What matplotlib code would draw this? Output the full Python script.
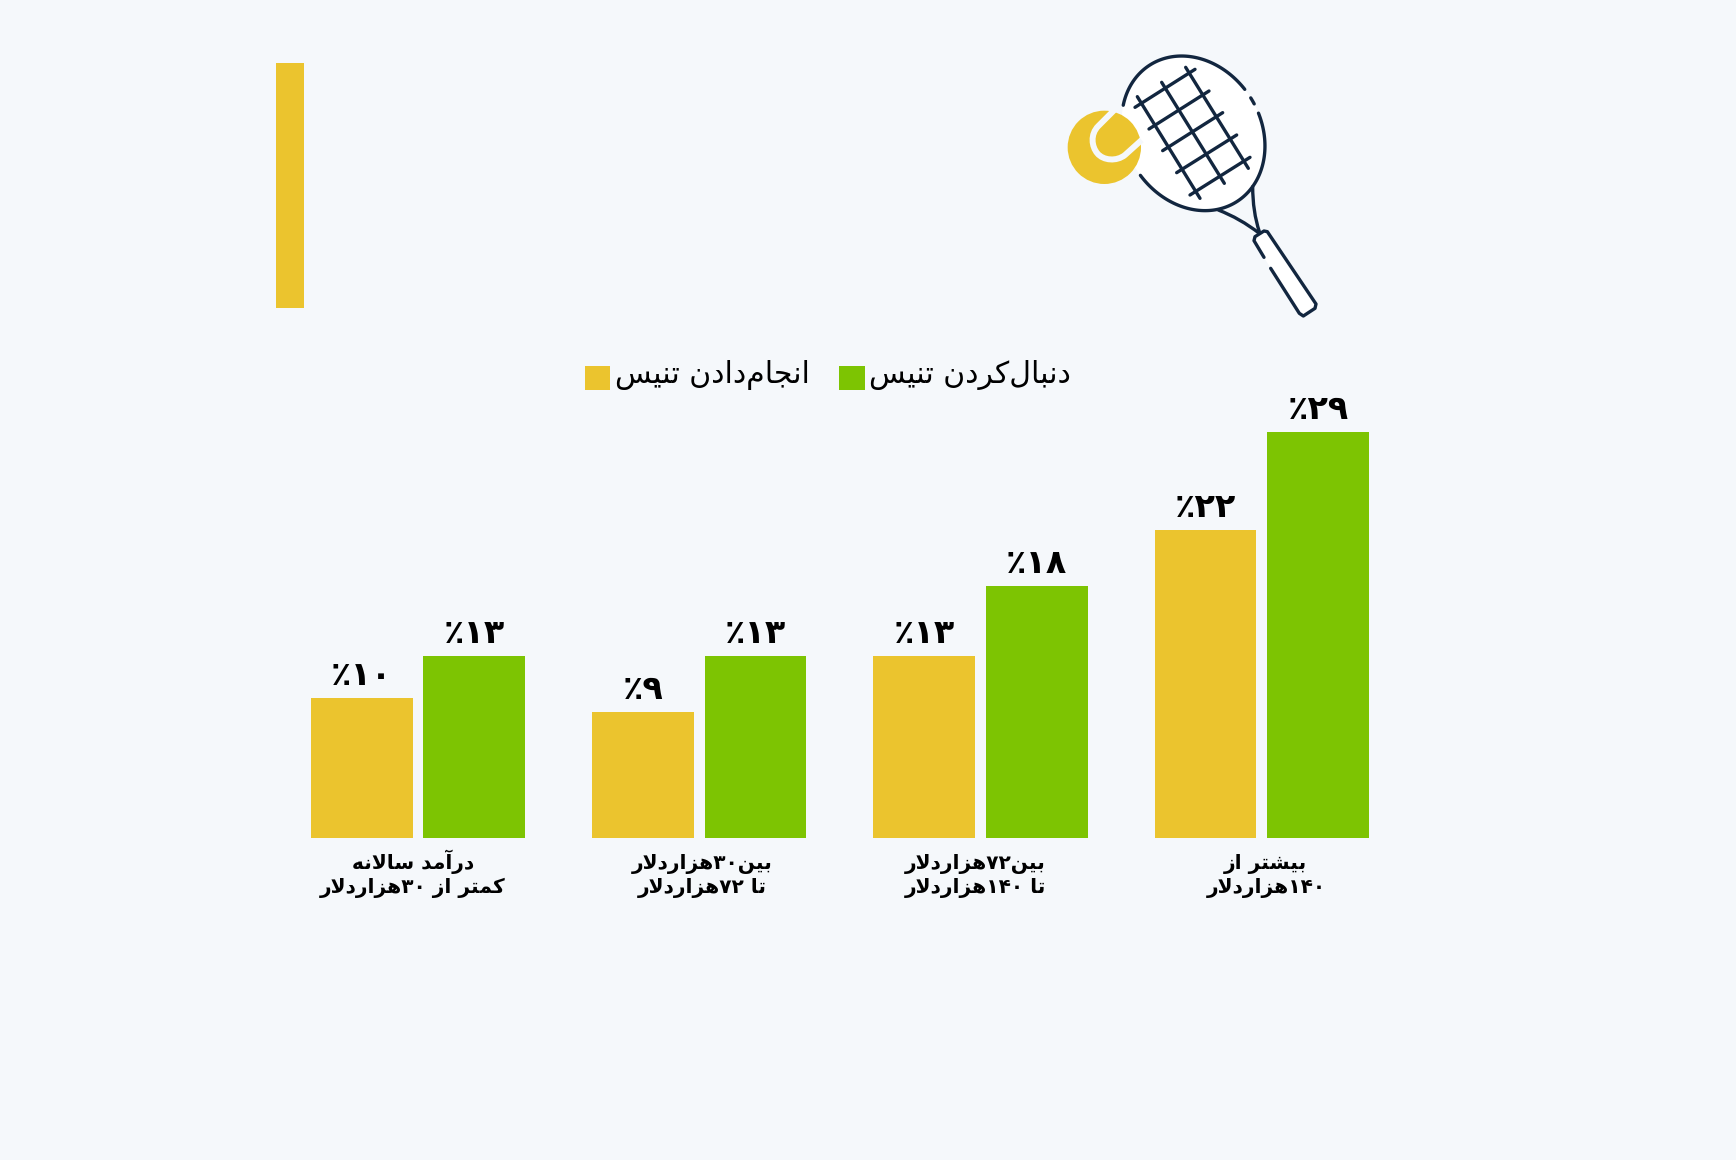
import numpy as np
import matplotlib
matplotlib.use("Agg")
import matplotlib.pyplot as plt
from matplotlib.patches import Rectangle, Circle, Ellipse, Polygon, PathPatch
from matplotlib.path import Path
from matplotlib.transforms import ScaledTranslation

# ---------- data ----------
categories = [
    "درآمد سالانه\nکمتر از ۳۰هزاردلار",
    "بین۳۰هزاردلار\nتا ۷۲هزاردلار",
    "بین۷۲هزاردلار\nتا ۱۴۰هزاردلار",
    "بیشتر از\n۱۴۰هزاردلار",
]
playing = [10, 9, 13, 22]
watching = [13, 13, 18, 29]
series_names = ["انجام‌دادن تنیس", "دنبال‌کردن تنیس"]
value_digits = "۰۱۲۳۴۵۶۷۸۹"

BG = "#F5F8FB"
YELLOW = "#EBC42E"
GREEN = "#7DC402"
NAVY = "#12263F"
LW = 2.4

# ---------- Persian shaping (matplotlib has no text shaping) ----------
FORMS = {
    "ا": (0xFE8D, 0xFE8E), "آ": (0xFE81, 0xFE82), "د": (0xFEA9, 0xFEAA),
    "ر": (0xFEAD, 0xFEAE), "ز": (0xFEAF, 0xFEB0),
    "ب": (0xFE8F, 0xFE90, 0xFE91, 0xFE92), "ت": (0xFE95, 0xFE96, 0xFE97, 0xFE98),
    "ج": (0xFE9D, 0xFE9E, 0xFE9F, 0xFEA0), "س": (0xFEB1, 0xFEB2, 0xFEB3, 0xFEB4),
    "ش": (0xFEB5, 0xFEB6, 0xFEB7, 0xFEB8), "ک": (0xFB8E, 0xFB8F, 0xFB90, 0xFB91),
    "ل": (0xFEDD, 0xFEDE, 0xFEDF, 0xFEE0), "م": (0xFEE1, 0xFEE2, 0xFEE3, 0xFEE4),
    "ن": (0xFEE5, 0xFEE6, 0xFEE7, 0xFEE8), "ه": (0xFEE9, 0xFEEA, 0xFEEB, 0xFEEC),
    "ی": (0xFBFC, 0xFBFD, 0xFBFE, 0xFBFF),
}


def shape_line(s):
    out = []
    n = len(s)
    i = 0
    while i < n:
        c = s[i]
        if c == "\u200c":
            i += 1
            continue
        if c not in FORMS:
            out.append(c)
            i += 1
            continue
        prev = s[i - 1] if i else ""
        joins_prev = prev in FORMS and len(FORMS[prev]) == 4
        if c == "ل" and i + 1 < n and s[i + 1] == "ا":
            out.append(chr(0xFEFC if joins_prev else 0xFEFB))
            i += 2
            continue
        nxt = s[i + 1] if i + 1 < n else ""
        f = FORMS[c]
        joins_next = len(f) == 4 and nxt in FORMS
        if joins_prev and joins_next:
            g = f[3]
        elif joins_prev:
            g = f[1]
        elif joins_next:
            g = f[2]
        else:
            g = f[0]
        out.append(chr(g))
        i += 1
    # visual order: reverse everything but keep digit runs left-to-right
    runs, cur = [], ""
    for ch in out:
        if ch in value_digits:
            cur += ch
        else:
            if cur:
                runs.append(cur)
                cur = ""
            runs.append(ch)
    if cur:
        runs.append(cur)
    return "".join(reversed(runs))


def shape(s):
    return "\n".join(shape_line(l) for l in s.split("\n"))


def fa_percent(v):
    return "٪" + "".join(value_digits[int(d)] for d in str(v))


# ---------- figure ----------
W, H = 1736, 1160
fig = plt.figure(figsize=(W / 100, H / 100), dpi=100, facecolor=BG)
plt.rcParams["font.family"] = ["DejaVu Sans"]

# chart axes: 14 px per percent, 281.3 px per group
left, base, gw = 277.35, 838, 281.3
ax = fig.add_axes([left / W, 1 - base / H, 4 * gw / W, 420 / H], facecolor="none")
ax.set_xlim(-0.5, 3.5)
ax.set_ylim(0, 30)
x = np.arange(len(categories))
bw, off = 0.3615, 0.2
b1 = ax.bar(x - off, playing, bw, color=YELLOW, label=shape(series_names[0]))
b2 = ax.bar(x + off, watching, bw, color=GREEN, label=shape(series_names[1]))
for bars, vals in ((b1, playing), (b2, watching)):
    for r, v in zip(bars, vals):
        ax.annotate(fa_percent(v), (r.get_x() + r.get_width() / 2, v),
                    xytext=(0, 4.5), textcoords="offset points", ha="center",
                    va="bottom", fontsize=24, fontweight="bold", color="black")
for s in ax.spines.values():
    s.set_visible(False)
ax.set_yticks([])
ax.set_xticks(x, [shape(c) for c in categories], fontsize=14.5, fontweight="bold",
              color="black", linespacing=1.25)
ax.tick_params(axis="x", length=0, pad=39.5)
for lab, dx in zip(ax.get_xticklabels(), (-5, 3, -5, 4)):
    lab.set_verticalalignment("baseline")
    lab.set_transform(lab.get_transform() + ScaledTranslation(dx / 100, 0, fig.dpi_scale_trans))

leg = fig.legend(loc="center", bbox_to_anchor=(828 / W, 1 - 375 / H), ncols=2,
                 frameon=False, fontsize=21.5, handlelength=0.855, handleheight=0.86,
                 handletextpad=0.15, columnspacing=1.0, borderpad=0, borderaxespad=0)
for p in leg.get_patches():
    p.set_y(p.get_y() - 3.5)

# ---------- decoration in pixel coordinates ----------
ov = fig.add_axes([0, 0, 1, 1], facecolor="none")
ov.set_xlim(0, W)
ov.set_ylim(H, 0)
ov.axis("off")
ov.add_patch(Rectangle((276, 63), 28, 245, color=YELLOW, lw=0))


def Z(px, py):
    return (1040 + px / 3, 30 + py / 3)


c = np.array(Z(460, 310))
a_, b_ = 81.0, 67.5
u = np.array([0.537, 0.843])
v_ = np.array([0.843, -0.537])
tilt = np.degrees(np.arctan2(u[1], u[0]))
ov.add_patch(Ellipse(c, 2 * a_, 2 * b_, angle=tilt, fc="white", ec="none", zorder=2))


def tparam(p):
    d = np.array(Z(*p)) - c
    return np.arctan2(d @ v_ / b_, d @ u / a_)


def arc(p1, p2):
    t1, t2 = tparam(p1), tparam(p2)
    while t2 > t1:
        t2 -= 2 * np.pi
    t = np.linspace(t1, t2, 120)
    pts = c + np.outer(a_ * np.cos(t), u) + np.outer(b_ * np.sin(t), v_)
    ov.plot(pts[:, 0], pts[:, 1], color=NAVY, lw=LW, solid_capstyle="round", zorder=5)


def poly(points):
    pts = np.array([Z(*p) for p in points])
    ov.plot(pts[:, 0], pts[:, 1], color=NAVY, lw=LW, solid_capstyle="round",
            solid_joinstyle="round", zorder=5)


ov.add_patch(Circle(Z(193, 352), 110 / 3, fc=YELLOW, ec="none", zorder=3))
seam = [(228, 235), (175, 288), (150, 313), (155, 350), (172, 370),
        (190, 392), (230, 395), (255, 375), (305, 330)]
codes = [Path.MOVETO, Path.LINETO, Path.CURVE4, Path.CURVE4, Path.CURVE4,
         Path.CURVE4, Path.CURVE4, Path.CURVE4, Path.LINETO]
ov.add_patch(PathPatch(Path([Z(*p) for p in seam], codes), fc="none", ec=BG, lw=4.3,
                       zorder=4, capstyle="butt"))

arc((660, 248), (300, 437))
arc((248, 225), (612, 180))
arc((630, 205), (642, 222))

for seg in [[(292, 200), (480, 505)], [(365, 157), (553, 460)], [(437, 112), (625, 415)],
            [(285, 232), (465, 118)], [(327, 297), (507, 183)], [(368, 362), (548, 248)],
            [(410, 428), (590, 315)], [(450, 495), (630, 382)]]:
    poly(seg)


def curve(p0, p1, p2):
    ov.add_patch(PathPatch(Path([Z(*p0), Z(*p1), Z(*p2)], [Path.MOVETO, Path.CURVE3, Path.CURVE3]),
                           fc="none", ec=NAVY, lw=LW, zorder=5, capstyle="round"))


curve((535, 540), (600, 565), (658, 610))
curve((638, 470), (638, 545), (658, 605))

handle = [(692, 715), (778, 850), (790, 858), (825, 835), (828, 822), (682, 605),
          (672, 603), (645, 620), (642, 632), (672, 682)]
ov.add_patch(Polygon([Z(*p) for p in handle], closed=True, fc="white", ec="none", zorder=4))
poly(handle)

fig.savefig("out.png", dpi=100, facecolor=BG)
